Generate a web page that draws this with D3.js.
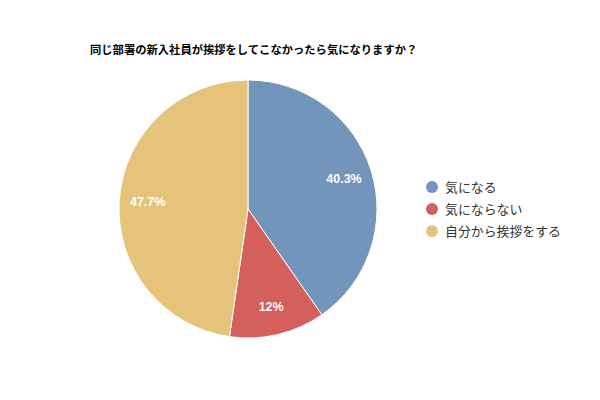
<!DOCTYPE html>
<html><head><meta charset="utf-8">
<script src="https://cdn.jsdelivr.net/npm/d3@7"></script>
<style>body{margin:0;background:#fff;} svg{display:block;}</style>
</head><body>
<svg id="c" width="600" height="400"></svg>
<script>
const title = "同じ部署の新入社員が挨拶をしてこなかったら気になりますか？";
const categories = ["気になる", "気にならない", "自分から挨拶をする"];
const values = [40.3, 12, 47.7];
const labels = ["40.3%", "12%", "47.7%"];
const colors = ["#7395bb", "#d45f5c", "#e6c37a"];

const svg = d3.select("#c");
const font = "'Noto Sans CJK JP','Noto Sans',sans-serif";
svg.append("rect").attr("width",600).attr("height",400).attr("fill","#fff");

svg.append("text").attr("x",90).attr("y",54)
  .attr("font-family",font).attr("font-size",11.3).attr("font-weight","bold")
  .attr("fill","#000").text(title);

const cx=248, cy=209, r=129;
const g = svg.append("g").attr("transform",`translate(${cx},${cy})`);
const pie = d3.pie().sort(null).value(d=>d)(values);
const arc = d3.arc().innerRadius(0).outerRadius(r);
const larc = d3.arc().innerRadius(r*0.78).outerRadius(r*0.78);
g.selectAll("path").data(pie).join("path")
  .attr("d",arc).attr("fill",(d,i)=>colors[i])
  .attr("stroke","#fff").attr("stroke-width",1);
g.selectAll("text").data(pie).join("text")
  .attr("transform",d=>`translate(${larc.centroid(d)})`)
  .attr("text-anchor","middle").attr("dy","0.35em")
  .attr("font-family","'Liberation Sans',Arial,sans-serif").attr("font-weight","bold")
  .attr("font-size",12.5).attr("fill","#fff")
  .text((d,i)=>labels[i]);

const lg = svg.append("g");
categories.forEach((c,i)=>{
  const y = 187 + i*22;
  lg.append("circle").attr("cx",432).attr("cy",y).attr("r",6).attr("fill",colors[i]);
  lg.append("text").attr("x",445).attr("y",y).attr("dy","0.35em")
    .attr("font-family",font).attr("font-size",12.9).attr("fill","#333").text(c);
});
</script>
</body></html>
